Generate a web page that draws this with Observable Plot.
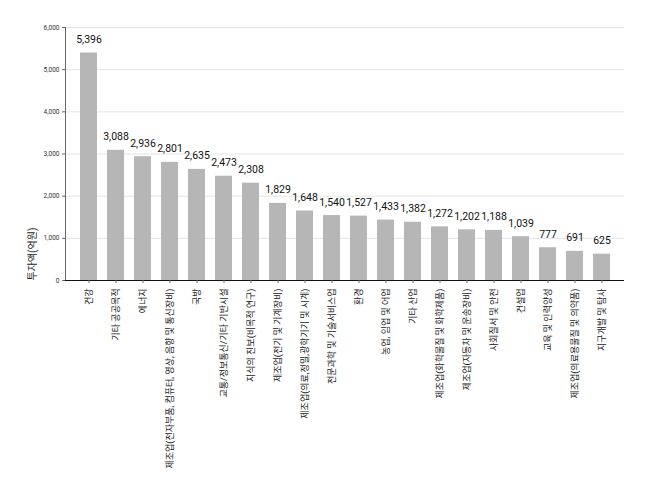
<!DOCTYPE html>
<html>
<head>
<meta charset="utf-8">
<script src="https://cdn.jsdelivr.net/npm/d3@7"></script>
<script src="https://cdn.jsdelivr.net/npm/@observablehq/plot@0.6"></script>
<style>
  body { margin: 0; background: #fff; font-family: Roboto, "Noto Sans CJK KR", sans-serif; }
</style>
</head>
<body>
<div id="chart"></div>
<script>
const categories = [
  "건강",
  "기타 공공목적",
  "에너지",
  "제조업(전자부품, 컴퓨터, 영상, 음향 및 통신장비)",
  "국방",
  "교통/정보통신/기타 기반시설",
  "지식의 진보(비목적 연구)",
  "제조업(전기 및 기계장비)",
  "제조업(의료,정밀,광학기기 및 시계)",
  "전문과학 및 기술서비스업",
  "환경",
  "농업, 임업 및 어업",
  "기타 산업",
  "제조업(화학물질 및 화학제품)",
  "제조업(자동차 및 운송장비)",
  "사회질서 및 안전",
  "건설업",
  "교육 및 인력양성",
  "제조업(의료용물질 및 의약품)",
  "지구개발 및 탐사"
];
const values = [5396, 3088, 2936, 2801, 2635, 2473, 2308, 1829, 1648, 1540, 1527, 1433, 1382, 1272, 1202, 1188, 1039, 777, 691, 625];
const yTicks = [0, 1000, 2000, 3000, 4000, 5000, 6000];
const yLabel = "투자액(억원)";

const data = categories.map((c, i) => ({category: c, value: values[i]}));
const fmt = d3.format(",");

const chart = Plot.plot({
  width: 671,
  height: 488,
  marginLeft: 65,
  marginRight: 47,
  marginTop: 27,
  marginBottom: 208,
  style: {fontFamily: "Roboto, 'Noto Sans CJK KR', sans-serif", background: "#fff"},
  x: {domain: categories, paddingInner: 0.38, paddingOuter: 0.41, label: null},
  y: {domain: [0, 6000], label: null},
  marks: [
    Plot.gridY(yTicks, {stroke: "#e4e4e4", strokeOpacity: 1}),
    Plot.barY(data, {x: "category", y: "value", fill: "#b6b6b6"}),
    Plot.text(data, {x: "category", y: "value", text: d => fmt(d.value), lineAnchor: "bottom", dy: -10, fontSize: 10.5, fill: "#111"}),
    Plot.frame({anchor: "left", stroke: "#666"}),
    Plot.ruleY([0], {stroke: "#111", strokeWidth: 1.2}),
    Plot.axisY(yTicks, {tickFormat: fmt, fontSize: 6.5, tickSize: 3, tickPadding: 3, label: null, stroke: "#666", fill: "#333"}),
    Plot.axisX({tickRotate: -90, fontSize: 9, tickSize: 3, tickPadding: 5, label: null, stroke: "#666", fill: "#222"}),
    Plot.text([yLabel], {frameAnchor: "bottom-left", rotate: -90, textAnchor: "start", dx: -30, fontSize: 10, fill: "#222"})
  ]
});
document.getElementById("chart").appendChild(chart);
</script>
</body>
</html>
